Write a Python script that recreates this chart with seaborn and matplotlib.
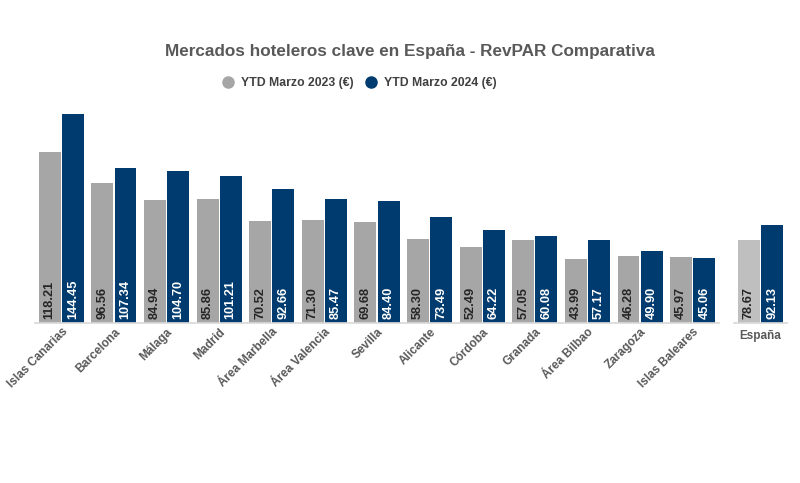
import matplotlib.pyplot as plt
import pandas as pd
import seaborn as sns

# data
mercados = ['Islas Canarias', 'Barcelona', 'Málaga', 'Madrid', 'Área Marbella',
            'Área Valencia', 'Sevilla', 'Alicante', 'Córdoba', 'Granada',
            'Área Bilbao', 'Zaragoza', 'Islas Baleares']
ytd_2023 = [118.21, 96.56, 84.94, 85.86, 70.52, 71.30, 69.68, 58.30, 52.49, 57.05,
            43.99, 46.28, 45.97]
ytd_2024 = [144.45, 107.34, 104.70, 101.21, 92.66, 85.47, 84.40, 73.49, 64.22, 60.08,
            57.17, 49.90, 45.06]
espana = ['España']
espana_2023 = [78.67]
espana_2024 = [92.13]
series = ['YTD Marzo 2023 (€)', 'YTD Marzo 2024 (€)']

grey = '#a6a6a6'
grey_light = '#bfbfbf'
navy = '#003b6f'
txt = '#595959'

sns.set_theme(style='white')
plt.rcParams['font.family'] = ['Liberation Sans', 'DejaVu Sans']


def long_df(cats, a, b):
    return pd.DataFrame({'Mercado': cats * 2,
                         'Serie': [series[0]] * len(cats) + [series[1]] * len(cats),
                         'RevPAR': list(a) + list(b)})


fig = plt.figure(figsize=(8, 4.83), dpi=100)
ax = fig.add_axes([0.04375, 0.331, 0.855, 0.462])
ax2 = fig.add_axes([0.9175, 0.331, 0.066, 0.462])

df = long_df(mercados, ytd_2023, ytd_2024)
df_es = long_df(espana, espana_2023, espana_2024)

sns.barplot(data=df, x='Mercado', y='RevPAR', hue='Serie', order=mercados,
            palette=[grey, navy], width=0.88, gap=0.05, saturation=1,
            linewidth=0, ax=ax, legend=False)
sns.barplot(data=df_es, x='Mercado', y='RevPAR', hue='Serie', order=espana,
            palette=[grey_light, navy], width=0.88, gap=0.05, saturation=1,
            linewidth=0, ax=ax2, legend=False)

# España panel has its own scale
for a, top in ((ax, 154), (ax2, 210)):
    a.set_ylim(0, top)
    a.set_yticks([])
    a.set_xlabel('')
    a.set_ylabel('')
    for s in ['top', 'left', 'right']:
        a.spines[s].set_visible(False)
    a.spines['bottom'].set_color('#d9d9d9')
    a.tick_params(axis='x', length=0, pad=2)
    # value labels at the foot of each bar
    for cont, c in zip(a.containers, ['#262626', 'white']):
        for bar, v in zip(cont, cont.datavalues):
            a.annotate(f'{v:.2f}', xy=(bar.get_x() + bar.get_width() / 2, 0),
                       xytext=(0, 4), textcoords='offset pixels', rotation=90,
                       ha='center', va='bottom', color=c, fontsize=9.2,
                       fontweight='bold')

ax.set_xticks(range(len(mercados)))
ax.set_xticklabels(mercados, rotation=45, ha='right', rotation_mode='anchor',
                   fontsize=8.5, fontweight='bold', color=txt)
ax2.set_xticks([0])
ax2.set_xticklabels(espana, fontsize=8.5, fontweight='bold', color=txt)
ax2.tick_params(axis='x', pad=5)

fig.text(0.5125, 0.893, 'Mercados hoteleros clave en España - RevPAR Comparativa',
         ha='center', va='center', fontsize=12.3, fontweight='bold', color=txt)

# legend
handles = [plt.Line2D([], [], marker='o', ls='', color=c, markersize=8) for c in (grey, navy)]
fig.legend(handles, series, loc='center', bbox_to_anchor=(0.445, 0.828), ncol=2,
           frameon=False, handletextpad=0.05, columnspacing=0.45,
           prop={'weight': 'bold', 'size': 8.8}, labelcolor='#404040')

fig.savefig('out.png', dpi=100, facecolor='white')
